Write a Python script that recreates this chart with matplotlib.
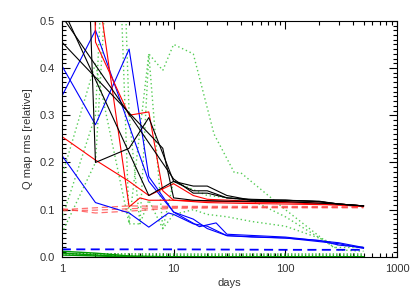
import numpy as np
import matplotlib
matplotlib.use('Agg')
import matplotlib.pyplot as plt
from matplotlib.ticker import FixedLocator, NullFormatter

plt.rcParams['font.family'] = ['Liberation Sans', 'DejaVu Sans']

# black solid lines
k1_days = [1, 2, 4, 6, 10, 15, 20, 30, 50, 100, 200, 300, 500]
k1_vals = [2.2, 0.20, 0.23, 0.295, 0.16, 0.14, 0.14, 0.125, 0.122, 0.12, 0.118, 0.112, 0.108]
k2_days = [1, 10, 15, 20, 30, 50, 100, 200, 300, 500]
k2_vals = [0.51, 0.165, 0.135, 0.135, 0.125, 0.12, 0.12, 0.117, 0.112, 0.108]
k3_days = [1, 6, 10, 15, 20, 30, 50, 100, 200, 300, 500]
k3_vals = [0.53, 0.13, 0.16, 0.15, 0.15, 0.13, 0.12, 0.12, 0.117, 0.112, 0.108]
k4_days = [1, 8, 10, 15, 30, 100, 300, 500]
k4_vals = [0.455, 0.23, 0.125, 0.12, 0.118, 0.117, 0.112, 0.108]

# red solid lines
r1_days = [1, 2, 4, 6, 10, 15, 20, 50, 100, 300, 500]
r1_vals = [0.255, 0.205, 0.16, 0.13, 0.155, 0.13, 0.122, 0.118, 0.117, 0.112, 0.108]
r2_days = [1, 4, 5, 6, 10, 20, 50, 100, 300, 500]
r2_vals = [1.1, 0.106, 0.125, 0.12, 0.12, 0.118, 0.116, 0.115, 0.11, 0.107]
r3_days = [1, 2, 4, 6, 8, 10, 20, 50, 100, 300, 500]
r3_vals = [5.0, 0.455, 0.30, 0.307, 0.14, 0.12, 0.115, 0.113, 0.112, 0.11, 0.107]

# red dashed lines
rd_days = [1, 2, 4, 10, 100, 500]
rd1_vals = [0.102, 0.093, 0.097, 0.103, 0.105, 0.105]
rd2_vals = [0.100, 0.104, 0.108, 0.107, 0.107, 0.106]
rd3_vals = [0.098, 0.099, 0.102, 0.105, 0.104, 0.104]

# blue solid lines
b1_days = [1, 2, 4, 6, 9, 10, 15, 20, 30, 100, 200, 300, 500]
b1_vals = [0.215, 0.115, 0.093, 0.063, 0.093, 0.09, 0.07, 0.065, 0.045, 0.04, 0.035, 0.025, 0.02]
b2_days = [1, 2, 4, 6, 10, 17, 24, 30, 100, 300, 500]
b2_vals = [0.405, 0.28, 0.44, 0.17, 0.095, 0.064, 0.072, 0.048, 0.042, 0.03, 0.02]
b3_days = [1, 2, 6, 10, 15, 20, 30, 50, 100, 300, 500]
b3_vals = [0.34, 0.48, 0.16, 0.095, 0.08, 0.06, 0.045, 0.042, 0.04, 0.028, 0.018]

# blue dashed
bd_days = [1, 10, 100, 500]
bd_vals = [0.016, 0.016, 0.015, 0.015]

# green solid lines
g_days = [1, 2, 4, 10, 100, 500]
g1_vals = [0.012, 0.008, 0.002, 0.0, 0.0, 0.0]
g2_vals = [0.008, 0.004, 0.0, 0.0, 0.0, 0.0]
g3_vals = [0.004, 0.002, 0.0, 0.0, 0.0, 0.0]

# green dotted lines
gd1_days = [1, 2, 4, 6, 8, 10, 15, 23, 35, 40, 100, 270, 500]
gd1_vals = [0.17, 0.41, 0.07, 0.43, 0.395, 0.45, 0.43, 0.26, 0.178, 0.178, 0.1, 0.02, 0.02]
gd2_days = [1, 2, 3, 4, 5, 6, 8, 10, 15, 20, 30, 50, 100, 200, 300, 500]
gd2_vals = [0.05, 0.2, 0.9, 0.07, 0.07, 0.12, 0.06, 0.09, 0.1, 0.09, 0.085, 0.075, 0.065, 0.04, 0.025, 0.02]
gd3_days = [1, 2, 3, 4, 5, 6, 8, 10, 20, 50, 100, 300, 500]
gd3_vals = [0.08, 0.3, 1.2, 0.3, 0.07, 0.43, 0.06, 0.16, 0.13, 0.12, 0.085, 0.015, 0.012]
gd_flat_days = [1, 10, 100, 500]
gd4_vals = [0.007, 0.006, 0.006, 0.006]
gd5_vals = [0.004, 0.003, 0.003, 0.003]

fig = plt.figure(figsize=(4.15, 2.97), dpi=100)
ax = fig.add_axes([0.149, 0.135, 0.808, 0.795])

green_dot = '#55cc55'
for d, v in [(gd1_days, gd1_vals), (gd2_days, gd2_vals), (gd3_days, gd3_vals)]:
    ax.plot(d, v, color=green_dot, lw=1.0, ls=(0, (1, 2)))
for v in [gd4_vals, gd5_vals]:
    ax.plot(gd_flat_days, v, color='#22aa22', lw=1.0, ls=(0, (1, 1.5)))
for v in [g1_vals, g2_vals, g3_vals]:
    ax.plot(g_days, v, color='#009900', lw=1.0)

for v in [rd1_vals, rd2_vals, rd3_vals]:
    ax.plot(rd_days, v, color='#ff4040', lw=0.9, ls=(0, (5, 3)), alpha=0.75)
ax.plot(bd_days, bd_vals, color='#0000ff', lw=1.3, ls=(0, (5, 3)))

for d, v in [(b1_days, b1_vals), (b2_days, b2_vals), (b3_days, b3_vals)]:
    ax.plot(d, v, color='#0000ff', lw=0.8)
for d, v in [(r1_days, r1_vals), (r2_days, r2_vals), (r3_days, r3_vals)]:
    ax.plot(d, v, color='#ff0000', lw=0.8)
for d, v in [(k1_days, k1_vals), (k2_days, k2_vals), (k3_days, k3_vals), (k4_days, k4_vals)]:
    ax.plot(d, v, color='#000000', lw=0.8)

ax.set_xscale('log')
ax.set_xlim(1, 1000)
ax.set_ylim(0, 0.5)

ax.xaxis.set_major_locator(FixedLocator([1, 10, 100, 1000]))
ax.set_xticklabels(['1', '10', '100', '1000'])
minors = [m * 10 ** e for e in range(3) for m in range(2, 10)]
ax.xaxis.set_minor_locator(FixedLocator(minors))
ax.xaxis.set_minor_formatter(NullFormatter())
ax.yaxis.set_major_locator(FixedLocator([0.0, 0.1, 0.2, 0.3, 0.4, 0.5]))
ax.set_yticklabels(['0.0', '0.1', '0.2', '0.3', '0.4', '0.5'])
ax.yaxis.set_minor_locator(FixedLocator(np.arange(0, 0.501, 0.01)))

ax.tick_params(which='both', direction='in', top=True, right=True,
               labelsize=8, labelcolor='#333333', width=0.8)
ax.tick_params(which='major', length=6, pad=5)
ax.tick_params(which='minor', length=3)
for s in ax.spines.values():
    s.set_linewidth(0.8)

ax.set_xlabel('days', fontsize=8, color='#333333', labelpad=3)
ax.set_ylabel('Q map rms [relative]', fontsize=8, color='#333333', labelpad=5)

fig.savefig('out.png', dpi=100)
